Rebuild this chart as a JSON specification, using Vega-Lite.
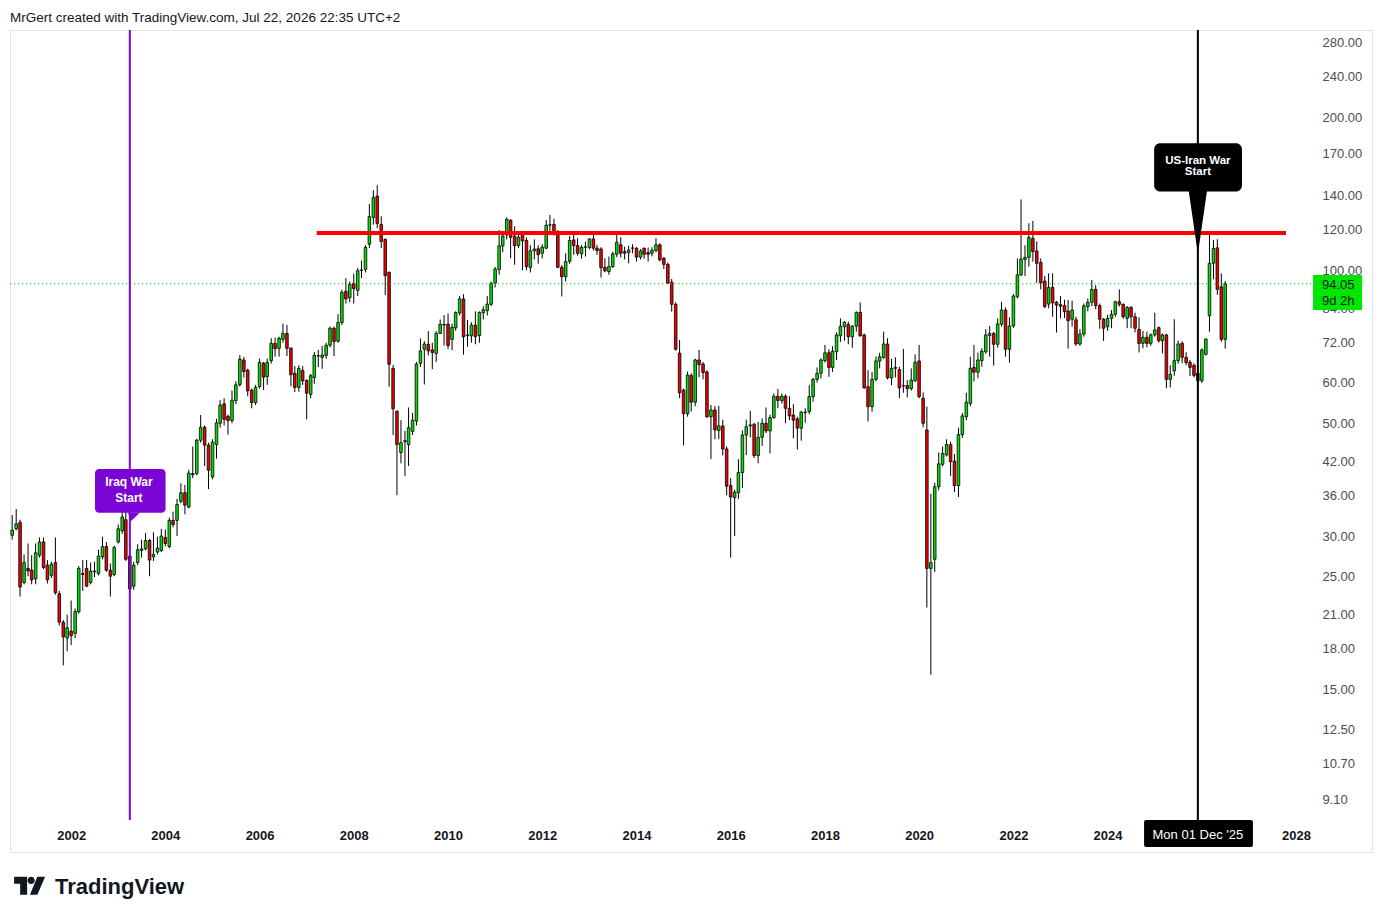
{
"$schema": "https://vega.github.io/schema/vega-lite/v6.json",
"width": 1362, "height": 822,
"autosize": {"type": "none"},
"padding": {"left": 10, "top": 30, "right": 11, "bottom": 68},
"background": "#ffffff",
"config": {"view": {"stroke": "#e0e3eb", "strokeWidth": 1}, "font": "Liberation Sans"},
"title": {"text": "MrGert created with TradingView.com, Jul 22, 2026 22:35 UTC+2", "anchor": "start", "frame": "group", "fontSize": 13.5, "fontWeight": "normal", "color": "#131722", "font": "Liberation Sans", "offset": 6, "baseline": "bottom", "dy": 15},
"resolve": {"axis": {"x": "independent", "y": "independent"}},
"datasets": {
"candles": [
{"d":"2000-10-01","o":30.1,"h":33.0,"l":29.5,"c":30.8},
{"d":"2000-11-01","o":31.0,"h":33.9,"l":30.8,"c":31.7},
{"d":"2000-12-01","o":31.9,"h":32.3,"l":22.8,"c":23.8},
{"d":"2001-01-01","o":24.3,"h":27.6,"l":24.1,"c":26.6},
{"d":"2001-02-01","o":25.9,"h":29.0,"l":25.0,"c":25.6},
{"d":"2001-03-01","o":25.7,"h":27.5,"l":24.1,"c":24.6},
{"d":"2001-04-01","o":24.7,"h":29.0,"l":24.1,"c":27.8},
{"d":"2001-05-01","o":27.5,"h":29.8,"l":27.2,"c":29.2},
{"d":"2001-06-01","o":29.2,"h":29.8,"l":25.8,"c":26.0},
{"d":"2001-07-01","o":26.3,"h":26.9,"l":24.2,"c":24.6},
{"d":"2001-08-01","o":25.1,"h":26.7,"l":24.8,"c":26.4},
{"d":"2001-09-01","o":26.6,"h":29.8,"l":23.0,"c":23.2},
{"d":"2001-10-01","o":23.1,"h":23.4,"l":20.0,"c":20.3},
{"d":"2001-11-01","o":20.3,"h":20.5,"l":16.7,"c":19.0},
{"d":"2001-12-01","o":18.9,"h":21.0,"l":17.8,"c":19.8},
{"d":"2002-01-01","o":19.5,"h":22.4,"l":18.3,"c":19.1},
{"d":"2002-02-01","o":19.3,"h":21.6,"l":18.9,"c":21.3},
{"d":"2002-03-01","o":21.3,"h":26.2,"l":21.1,"c":25.9},
{"d":"2002-04-01","o":25.3,"h":26.9,"l":23.4,"c":25.2},
{"d":"2002-05-01","o":25.9,"h":26.9,"l":23.8,"c":23.9},
{"d":"2002-06-01","o":24.3,"h":26.6,"l":24.1,"c":25.6},
{"d":"2002-07-01","o":25.6,"h":26.7,"l":24.9,"c":25.5},
{"d":"2002-08-01","o":25.3,"h":28.2,"l":25.1,"c":27.4},
{"d":"2002-09-01","o":27.3,"h":29.9,"l":27.0,"c":28.6},
{"d":"2002-10-01","o":28.6,"h":29.2,"l":25.5,"c":25.7},
{"d":"2002-11-01","o":25.7,"h":26.5,"l":22.8,"c":25.0},
{"d":"2002-12-01","o":25.2,"h":28.7,"l":25.0,"c":28.5},
{"d":"2003-01-01","o":29.2,"h":31.6,"l":29.0,"c":31.0},
{"d":"2003-02-01","o":30.7,"h":33.9,"l":30.3,"c":32.7},
{"d":"2003-03-01","o":32.3,"h":34.6,"l":26.8,"c":27.0},
{"d":"2003-04-01","o":27.4,"h":27.6,"l":23.2,"c":23.6},
{"d":"2003-05-01","o":23.9,"h":26.7,"l":23.5,"c":26.3},
{"d":"2003-06-01","o":26.6,"h":28.9,"l":26.3,"c":28.2},
{"d":"2003-07-01","o":28.1,"h":29.5,"l":27.2,"c":28.3},
{"d":"2003-08-01","o":28.3,"h":30.4,"l":28.1,"c":29.4},
{"d":"2003-09-01","o":29.4,"h":29.6,"l":25.0,"c":26.9},
{"d":"2003-10-01","o":27.3,"h":30.5,"l":26.8,"c":27.6},
{"d":"2003-11-01","o":27.9,"h":29.9,"l":27.6,"c":28.4},
{"d":"2003-12-01","o":28.1,"h":31.0,"l":27.9,"c":30.0},
{"d":"2004-01-01","o":29.8,"h":30.9,"l":28.6,"c":29.0},
{"d":"2004-02-01","o":28.6,"h":32.6,"l":28.4,"c":32.2},
{"d":"2004-03-01","o":32.2,"h":33.5,"l":31.2,"c":31.6},
{"d":"2004-04-01","o":32.2,"h":35.5,"l":30.0,"c":34.6},
{"d":"2004-05-01","o":35.1,"h":38.1,"l":34.8,"c":36.5},
{"d":"2004-06-01","o":36.5,"h":37.8,"l":33.1,"c":34.5},
{"d":"2004-07-01","o":34.2,"h":40.5,"l":34.0,"c":39.9},
{"d":"2004-08-01","o":39.8,"h":45.0,"l":39.0,"c":39.6},
{"d":"2004-09-01","o":39.8,"h":46.6,"l":39.5,"c":46.3},
{"d":"2004-10-01","o":46.3,"h":51.9,"l":45.8,"c":49.1},
{"d":"2004-11-01","o":49.1,"h":49.5,"l":41.2,"c":45.3},
{"d":"2004-12-01","o":45.3,"h":45.8,"l":37.1,"c":40.4},
{"d":"2005-01-01","o":39.2,"h":46.5,"l":38.8,"c":45.9},
{"d":"2005-02-01","o":45.4,"h":51.0,"l":42.6,"c":50.1},
{"d":"2005-03-01","o":50.0,"h":55.5,"l":49.0,"c":54.3},
{"d":"2005-04-01","o":54.6,"h":56.0,"l":49.5,"c":50.9},
{"d":"2005-05-01","o":51.6,"h":52.0,"l":47.5,"c":50.6},
{"d":"2005-06-01","o":50.6,"h":58.0,"l":50.0,"c":55.5},
{"d":"2005-07-01","o":55.4,"h":60.5,"l":54.5,"c":59.5},
{"d":"2005-08-01","o":59.6,"h":68.1,"l":59.0,"c":66.8},
{"d":"2005-09-01","o":66.6,"h":67.5,"l":61.5,"c":63.2},
{"d":"2005-10-01","o":63.6,"h":64.0,"l":56.5,"c":57.9},
{"d":"2005-11-01","o":58.1,"h":58.5,"l":53.5,"c":54.9},
{"d":"2005-12-01","o":54.9,"h":59.5,"l":54.3,"c":58.8},
{"d":"2006-01-01","o":59.0,"h":67.0,"l":58.5,"c":65.9},
{"d":"2006-02-01","o":65.6,"h":66.0,"l":58.1,"c":61.6},
{"d":"2006-03-01","o":61.8,"h":67.0,"l":59.5,"c":65.9},
{"d":"2006-04-01","o":66.4,"h":73.5,"l":65.5,"c":71.8},
{"d":"2006-05-01","o":71.8,"h":73.7,"l":67.6,"c":70.1},
{"d":"2006-06-01","o":70.2,"h":74.0,"l":67.6,"c":73.5},
{"d":"2006-07-01","o":73.1,"h":78.5,"l":72.0,"c":75.1},
{"d":"2006-08-01","o":75.1,"h":78.0,"l":67.8,"c":70.2},
{"d":"2006-09-01","o":70.3,"h":70.5,"l":59.1,"c":62.3},
{"d":"2006-10-01","o":62.7,"h":64.8,"l":57.6,"c":58.8},
{"d":"2006-11-01","o":58.8,"h":65.0,"l":57.7,"c":64.1},
{"d":"2006-12-01","o":63.5,"h":64.8,"l":59.5,"c":60.6},
{"d":"2007-01-01","o":60.7,"h":61.0,"l":50.9,"c":57.3},
{"d":"2007-02-01","o":57.0,"h":62.5,"l":56.0,"c":62.0},
{"d":"2007-03-01","o":61.5,"h":69.0,"l":59.8,"c":68.0},
{"d":"2007-04-01","o":67.8,"h":69.7,"l":64.5,"c":67.9},
{"d":"2007-05-01","o":67.4,"h":71.0,"l":64.0,"c":68.1},
{"d":"2007-06-01","o":68.0,"h":72.0,"l":67.0,"c":71.2},
{"d":"2007-07-01","o":71.2,"h":77.5,"l":70.5,"c":76.9},
{"d":"2007-08-01","o":76.9,"h":77.5,"l":67.8,"c":72.4},
{"d":"2007-09-01","o":72.5,"h":82.0,"l":72.0,"c":78.9},
{"d":"2007-10-01","o":78.9,"h":91.5,"l":78.0,"c":90.5},
{"d":"2007-11-01","o":90.9,"h":96.5,"l":86.0,"c":87.8},
{"d":"2007-12-01","o":88.3,"h":95.0,"l":86.5,"c":93.8},
{"d":"2008-01-01","o":94.2,"h":98.5,"l":86.0,"c":92.0},
{"d":"2008-02-01","o":91.3,"h":101.0,"l":89.0,"c":99.8},
{"d":"2008-03-01","o":100.1,"h":104.5,"l":96.5,"c":100.0},
{"d":"2008-04-01","o":100.4,"h":112.0,"l":99.0,"c":110.9},
{"d":"2008-05-01","o":112.5,"h":134.9,"l":110.5,"c":127.5},
{"d":"2008-06-01","o":127.0,"h":143.7,"l":123.0,"c":139.0},
{"d":"2008-07-01","o":139.9,"h":147.0,"l":121.0,"c":123.6},
{"d":"2008-08-01","o":123.0,"h":127.7,"l":110.5,"c":113.9},
{"d":"2008-09-01","o":115.0,"h":115.5,"l":89.4,"c":97.6},
{"d":"2008-10-01","o":99.0,"h":99.5,"l":59.0,"c":65.3},
{"d":"2008-11-01","o":64.1,"h":65.1,"l":47.4,"c":53.4},
{"d":"2008-12-01","o":52.8,"h":53.0,"l":36.1,"c":45.4},
{"d":"2009-01-01","o":43.8,"h":50.7,"l":41.7,"c":45.8},
{"d":"2009-02-01","o":46.0,"h":48.3,"l":39.4,"c":46.2},
{"d":"2009-03-01","o":45.4,"h":53.7,"l":41.2,"c":49.0},
{"d":"2009-04-01","o":48.2,"h":52.4,"l":47.4,"c":50.7},
{"d":"2009-05-01","o":50.5,"h":66.0,"l":49.5,"c":65.4},
{"d":"2009-06-01","o":65.6,"h":73.4,"l":64.5,"c":69.4},
{"d":"2009-07-01","o":69.9,"h":72.5,"l":59.6,"c":71.6},
{"d":"2009-08-01","o":71.5,"h":75.9,"l":68.0,"c":69.4},
{"d":"2009-09-01","o":69.7,"h":72.0,"l":63.9,"c":68.9},
{"d":"2009-10-01","o":68.6,"h":75.9,"l":66.0,"c":75.1},
{"d":"2009-11-01","o":75.1,"h":80.0,"l":75.0,"c":78.3},
{"d":"2009-12-01","o":78.0,"h":81.6,"l":71.1,"c":78.2},
{"d":"2010-01-01","o":78.3,"h":82.2,"l":70.0,"c":71.1},
{"d":"2010-02-01","o":73.1,"h":78.5,"l":69.6,"c":77.2},
{"d":"2010-03-01","o":77.0,"h":83.0,"l":76.0,"c":82.6},
{"d":"2010-04-01","o":82.4,"h":89.0,"l":81.5,"c":87.8},
{"d":"2010-05-01","o":87.8,"h":89.7,"l":68.2,"c":74.0},
{"d":"2010-06-01","o":74.3,"h":79.8,"l":70.7,"c":74.6},
{"d":"2010-07-01","o":74.3,"h":79.0,"l":72.0,"c":78.0},
{"d":"2010-08-01","o":78.0,"h":83.0,"l":71.5,"c":74.0},
{"d":"2010-09-01","o":74.4,"h":83.0,"l":72.0,"c":82.6},
{"d":"2010-10-01","o":82.5,"h":85.0,"l":80.0,"c":83.6},
{"d":"2010-11-01","o":83.3,"h":89.0,"l":81.5,"c":85.8},
{"d":"2010-12-01","o":85.7,"h":95.0,"l":85.0,"c":94.3},
{"d":"2011-01-01","o":94.3,"h":101.5,"l":92.5,"c":100.5},
{"d":"2011-02-01","o":100.4,"h":120.0,"l":98.0,"c":111.7},
{"d":"2011-03-01","o":111.7,"h":118.0,"l":108.5,"c":116.8},
{"d":"2011-04-01","o":117.3,"h":127.0,"l":115.0,"c":126.0},
{"d":"2011-05-01","o":125.4,"h":126.0,"l":105.5,"c":116.1},
{"d":"2011-06-01","o":116.8,"h":122.0,"l":102.5,"c":111.7},
{"d":"2011-07-01","o":111.9,"h":119.0,"l":110.5,"c":116.1},
{"d":"2011-08-01","o":118.2,"h":119.0,"l":100.0,"c":114.2},
{"d":"2011-09-01","o":114.5,"h":116.0,"l":100.0,"c":101.6},
{"d":"2011-10-01","o":101.3,"h":112.0,"l":99.0,"c":109.2},
{"d":"2011-11-01","o":109.2,"h":115.0,"l":105.0,"c":110.1},
{"d":"2011-12-01","o":110.2,"h":112.0,"l":103.0,"c":107.4},
{"d":"2012-01-01","o":108.0,"h":112.5,"l":105.5,"c":111.0},
{"d":"2012-02-01","o":110.5,"h":125.6,"l":110.0,"c":122.6},
{"d":"2012-03-01","o":122.7,"h":128.5,"l":119.5,"c":122.8},
{"d":"2012-04-01","o":123.1,"h":126.3,"l":117.0,"c":119.1},
{"d":"2012-05-01","o":119.1,"h":120.0,"l":101.0,"c":101.3},
{"d":"2012-06-01","o":101.3,"h":102.4,"l":88.8,"c":97.1},
{"d":"2012-07-01","o":97.1,"h":108.0,"l":95.0,"c":104.0},
{"d":"2012-08-01","o":104.1,"h":116.8,"l":103.0,"c":114.4},
{"d":"2012-09-01","o":114.7,"h":117.9,"l":107.2,"c":111.8},
{"d":"2012-10-01","o":111.8,"h":115.6,"l":107.0,"c":108.0},
{"d":"2012-11-01","o":107.7,"h":112.0,"l":105.3,"c":111.0},
{"d":"2012-12-01","o":111.0,"h":113.9,"l":106.4,"c":111.2},
{"d":"2013-01-01","o":110.8,"h":115.6,"l":110.0,"c":115.2},
{"d":"2013-02-01","o":115.2,"h":118.8,"l":109.3,"c":110.5},
{"d":"2013-03-01","o":110.5,"h":112.2,"l":107.2,"c":109.3},
{"d":"2013-04-01","o":110.1,"h":111.0,"l":96.7,"c":101.2},
{"d":"2013-05-01","o":101.3,"h":105.6,"l":99.1,"c":99.7},
{"d":"2013-06-01","o":99.4,"h":106.4,"l":98.0,"c":101.7},
{"d":"2013-07-01","o":101.7,"h":108.8,"l":101.0,"c":107.7},
{"d":"2013-08-01","o":107.5,"h":117.3,"l":106.1,"c":113.5},
{"d":"2013-09-01","o":112.2,"h":116.1,"l":106.0,"c":108.0},
{"d":"2013-10-01","o":108.8,"h":111.3,"l":105.0,"c":108.0},
{"d":"2013-11-01","o":108.3,"h":111.7,"l":103.2,"c":109.6},
{"d":"2013-12-01","o":110.6,"h":112.5,"l":108.0,"c":110.5},
{"d":"2014-01-01","o":110.5,"h":111.0,"l":104.0,"c":106.1},
{"d":"2014-02-01","o":106.1,"h":110.0,"l":105.0,"c":109.1},
{"d":"2014-03-01","o":110.5,"h":110.8,"l":105.3,"c":107.5},
{"d":"2014-04-01","o":108.3,"h":110.8,"l":104.0,"c":107.5},
{"d":"2014-05-01","o":108.0,"h":111.0,"l":106.5,"c":109.5},
{"d":"2014-06-01","o":109.3,"h":115.6,"l":108.5,"c":112.2},
{"d":"2014-07-01","o":112.2,"h":113.0,"l":104.0,"c":104.8},
{"d":"2014-08-01","o":105.6,"h":106.0,"l":100.5,"c":102.7},
{"d":"2014-09-01","o":102.7,"h":103.5,"l":94.0,"c":94.3},
{"d":"2014-10-01","o":94.7,"h":96.1,"l":82.9,"c":85.7},
{"d":"2014-11-01","o":85.7,"h":86.5,"l":69.5,"c":69.9},
{"d":"2014-12-01","o":68.7,"h":72.9,"l":56.0,"c":57.4},
{"d":"2015-01-01","o":58.1,"h":58.5,"l":45.2,"c":52.2},
{"d":"2015-02-01","o":52.2,"h":63.2,"l":51.5,"c":62.2},
{"d":"2015-03-01","o":62.1,"h":62.7,"l":52.7,"c":55.0},
{"d":"2015-04-01","o":55.0,"h":67.0,"l":54.0,"c":66.6},
{"d":"2015-05-01","o":66.6,"h":69.7,"l":61.6,"c":65.2},
{"d":"2015-06-01","o":65.4,"h":66.0,"l":61.0,"c":62.9},
{"d":"2015-07-01","o":63.1,"h":63.5,"l":51.2,"c":51.5},
{"d":"2015-08-01","o":51.5,"h":54.3,"l":42.5,"c":53.1},
{"d":"2015-09-01","o":53.1,"h":54.0,"l":46.5,"c":48.5},
{"d":"2015-10-01","o":48.4,"h":54.1,"l":46.5,"c":49.4},
{"d":"2015-11-01","o":49.4,"h":50.8,"l":43.2,"c":44.5},
{"d":"2015-12-01","o":44.5,"h":45.0,"l":36.1,"c":37.6},
{"d":"2016-01-01","o":37.7,"h":39.0,"l":27.2,"c":35.8},
{"d":"2016-02-01","o":35.7,"h":37.0,"l":30.0,"c":36.6},
{"d":"2016-03-01","o":36.5,"h":42.5,"l":35.5,"c":40.0},
{"d":"2016-04-01","o":40.0,"h":48.4,"l":37.3,"c":47.4},
{"d":"2016-05-01","o":47.4,"h":50.8,"l":43.3,"c":49.2},
{"d":"2016-06-01","o":49.4,"h":52.9,"l":46.9,"c":49.6},
{"d":"2016-07-01","o":49.8,"h":50.0,"l":42.7,"c":43.2},
{"d":"2016-08-01","o":43.2,"h":50.3,"l":41.7,"c":46.9},
{"d":"2016-09-01","o":46.9,"h":51.1,"l":45.1,"c":50.0},
{"d":"2016-10-01","o":50.0,"h":53.7,"l":47.8,"c":48.3},
{"d":"2016-11-01","o":48.3,"h":52.0,"l":43.6,"c":51.3},
{"d":"2016-12-01","o":51.3,"h":57.2,"l":51.0,"c":56.5},
{"d":"2017-01-01","o":56.5,"h":58.4,"l":53.5,"c":55.4},
{"d":"2017-02-01","o":55.4,"h":57.2,"l":54.7,"c":56.5},
{"d":"2017-03-01","o":56.5,"h":57.0,"l":50.0,"c":53.5},
{"d":"2017-04-01","o":53.5,"h":56.5,"l":50.7,"c":51.7},
{"d":"2017-05-01","o":51.9,"h":54.5,"l":46.7,"c":50.7},
{"d":"2017-06-01","o":51.0,"h":51.5,"l":44.4,"c":48.9},
{"d":"2017-07-01","o":48.9,"h":52.9,"l":46.2,"c":52.6},
{"d":"2017-08-01","o":52.6,"h":53.5,"l":50.1,"c":52.5},
{"d":"2017-09-01","o":52.7,"h":59.4,"l":52.1,"c":56.4},
{"d":"2017-10-01","o":56.4,"h":61.4,"l":55.1,"c":61.0},
{"d":"2017-11-01","o":61.0,"h":64.4,"l":60.1,"c":62.7},
{"d":"2017-12-01","o":62.7,"h":67.1,"l":61.2,"c":66.6},
{"d":"2018-01-01","o":66.4,"h":71.3,"l":65.8,"c":68.8},
{"d":"2018-02-01","o":68.8,"h":69.9,"l":61.7,"c":64.4},
{"d":"2018-03-01","o":64.4,"h":70.9,"l":63.1,"c":69.3},
{"d":"2018-04-01","o":69.1,"h":75.5,"l":66.6,"c":74.6},
{"d":"2018-05-01","o":74.3,"h":80.4,"l":72.3,"c":77.6},
{"d":"2018-06-01","o":77.4,"h":79.4,"l":72.7,"c":79.0},
{"d":"2018-07-01","o":78.2,"h":79.2,"l":71.5,"c":74.0},
{"d":"2018-08-01","o":74.0,"h":78.0,"l":70.4,"c":77.6},
{"d":"2018-09-01","o":77.6,"h":83.0,"l":75.7,"c":82.6},
{"d":"2018-10-01","o":82.6,"h":86.4,"l":74.0,"c":74.3},
{"d":"2018-11-01","o":74.6,"h":75.0,"l":58.4,"c":58.7},
{"d":"2018-12-01","o":59.0,"h":63.6,"l":50.4,"c":53.9},
{"d":"2019-01-01","o":53.9,"h":63.1,"l":52.7,"c":61.0},
{"d":"2019-02-01","o":61.0,"h":67.6,"l":60.5,"c":66.3},
{"d":"2019-03-01","o":66.3,"h":68.8,"l":64.1,"c":67.6},
{"d":"2019-04-01","o":67.3,"h":75.7,"l":67.0,"c":71.6},
{"d":"2019-05-01","o":71.6,"h":73.5,"l":61.0,"c":61.4},
{"d":"2019-06-01","o":61.4,"h":66.9,"l":59.4,"c":64.1},
{"d":"2019-07-01","o":64.1,"h":67.4,"l":61.5,"c":64.4},
{"d":"2019-08-01","o":63.8,"h":64.6,"l":56.0,"c":58.7},
{"d":"2019-09-01","o":59.3,"h":70.0,"l":57.4,"c":59.2},
{"d":"2019-10-01","o":59.3,"h":60.8,"l":56.2,"c":58.5},
{"d":"2019-11-01","o":58.5,"h":64.1,"l":58.0,"c":60.8},
{"d":"2019-12-01","o":60.6,"h":68.3,"l":60.3,"c":65.9},
{"d":"2020-01-01","o":66.3,"h":71.3,"l":56.0,"c":56.4},
{"d":"2020-02-01","o":56.0,"h":57.5,"l":49.1,"c":50.0},
{"d":"2020-03-01","o":48.5,"h":53.9,"l":21.7,"c":25.9},
{"d":"2020-04-01","o":25.9,"h":36.3,"l":16.0,"c":26.6},
{"d":"2020-05-01","o":27.0,"h":38.2,"l":25.5,"c":37.5},
{"d":"2020-06-01","o":37.5,"h":43.8,"l":36.9,"c":41.6},
{"d":"2020-07-01","o":41.5,"h":45.0,"l":41.1,"c":43.6},
{"d":"2020-08-01","o":43.3,"h":46.5,"l":43.0,"c":45.4},
{"d":"2020-09-01","o":45.4,"h":46.0,"l":39.4,"c":42.0},
{"d":"2020-10-01","o":42.1,"h":43.5,"l":36.6,"c":37.7},
{"d":"2020-11-01","o":37.7,"h":49.0,"l":35.8,"c":47.5},
{"d":"2020-12-01","o":47.5,"h":52.4,"l":46.8,"c":51.7},
{"d":"2021-01-01","o":51.5,"h":57.4,"l":50.7,"c":55.0},
{"d":"2021-02-01","o":54.7,"h":67.6,"l":54.0,"c":64.1},
{"d":"2021-03-01","o":64.4,"h":71.3,"l":60.4,"c":63.0},
{"d":"2021-04-01","o":63.0,"h":68.8,"l":61.3,"c":66.6},
{"d":"2021-05-01","o":66.4,"h":70.2,"l":64.6,"c":69.3},
{"d":"2021-06-01","o":69.1,"h":76.6,"l":68.5,"c":74.6},
{"d":"2021-07-01","o":74.4,"h":77.7,"l":67.6,"c":75.1},
{"d":"2021-08-01","o":75.1,"h":75.6,"l":64.9,"c":71.5},
{"d":"2021-09-01","o":71.5,"h":80.4,"l":70.4,"c":78.4},
{"d":"2021-10-01","o":78.3,"h":86.7,"l":77.5,"c":83.5},
{"d":"2021-11-01","o":83.5,"h":84.5,"l":67.6,"c":69.9},
{"d":"2021-12-01","o":69.9,"h":80.8,"l":65.8,"c":77.7},
{"d":"2022-01-01","o":77.7,"h":89.8,"l":77.0,"c":89.0},
{"d":"2022-02-01","o":88.7,"h":105.5,"l":88.0,"c":97.9},
{"d":"2022-03-01","o":97.9,"h":137.8,"l":97.4,"c":105.2},
{"d":"2022-04-01","o":105.0,"h":112.0,"l":97.4,"c":106.0},
{"d":"2022-05-01","o":106.0,"h":123.7,"l":101.6,"c":116.0},
{"d":"2022-06-01","o":115.5,"h":125.0,"l":104.0,"c":108.8},
{"d":"2022-07-01","o":109.1,"h":114.0,"l":94.5,"c":103.2},
{"d":"2022-08-01","o":103.6,"h":105.5,"l":91.7,"c":94.5},
{"d":"2022-09-01","o":95.2,"h":97.5,"l":84.2,"c":84.8},
{"d":"2022-10-01","o":85.8,"h":98.6,"l":84.2,"c":92.5},
{"d":"2022-11-01","o":92.5,"h":98.6,"l":81.0,"c":86.3},
{"d":"2022-12-01","o":86.5,"h":87.0,"l":75.4,"c":85.4},
{"d":"2023-01-01","o":85.6,"h":89.0,"l":80.4,"c":84.9},
{"d":"2023-02-01","o":85.2,"h":87.5,"l":80.5,"c":82.9},
{"d":"2023-03-01","o":83.1,"h":87.4,"l":70.1,"c":79.6},
{"d":"2023-04-01","o":80.1,"h":87.1,"l":77.5,"c":83.5},
{"d":"2023-05-01","o":79.9,"h":81.0,"l":71.0,"c":71.6},
{"d":"2023-06-01","o":71.6,"h":76.5,"l":71.0,"c":74.9},
{"d":"2023-07-01","o":74.9,"h":86.0,"l":74.0,"c":85.1},
{"d":"2023-08-01","o":84.8,"h":88.0,"l":83.0,"c":86.5},
{"d":"2023-09-01","o":86.5,"h":95.7,"l":85.0,"c":91.7},
{"d":"2023-10-01","o":91.7,"h":93.5,"l":83.8,"c":85.2},
{"d":"2023-11-01","o":85.2,"h":86.0,"l":76.7,"c":80.1},
{"d":"2023-12-01","o":80.1,"h":80.5,"l":72.6,"c":76.9},
{"d":"2024-01-01","o":77.4,"h":81.7,"l":76.0,"c":80.4},
{"d":"2024-02-01","o":80.4,"h":83.5,"l":76.9,"c":81.9},
{"d":"2024-03-01","o":81.9,"h":87.1,"l":81.0,"c":86.7},
{"d":"2024-04-01","o":86.7,"h":91.7,"l":84.8,"c":85.7},
{"d":"2024-05-01","o":85.7,"h":86.0,"l":80.3,"c":81.0},
{"d":"2024-06-01","o":80.4,"h":85.0,"l":76.9,"c":84.5},
{"d":"2024-07-01","o":84.5,"h":85.0,"l":76.9,"c":81.0},
{"d":"2024-08-01","o":81.0,"h":82.5,"l":75.5,"c":76.9},
{"d":"2024-09-01","o":76.5,"h":80.8,"l":68.9,"c":71.8},
{"d":"2024-10-01","o":71.8,"h":76.0,"l":70.2,"c":73.8},
{"d":"2024-11-01","o":73.8,"h":75.7,"l":70.5,"c":71.8},
{"d":"2024-12-01","o":71.8,"h":75.1,"l":71.0,"c":74.6},
{"d":"2025-01-01","o":74.6,"h":82.5,"l":74.0,"c":76.3},
{"d":"2025-02-01","o":77.1,"h":77.5,"l":72.0,"c":72.7},
{"d":"2025-03-01","o":72.7,"h":75.1,"l":68.6,"c":74.6},
{"d":"2025-04-01","o":74.6,"h":75.0,"l":58.6,"c":61.0},
{"d":"2025-05-01","o":61.0,"h":65.0,"l":58.8,"c":62.4},
{"d":"2025-06-01","o":63.4,"h":80.1,"l":62.0,"c":66.4},
{"d":"2025-07-01","o":66.4,"h":72.7,"l":65.5,"c":71.6},
{"d":"2025-08-01","o":71.8,"h":72.5,"l":65.6,"c":67.4},
{"d":"2025-09-01","o":67.4,"h":69.0,"l":65.0,"c":65.8},
{"d":"2025-10-01","o":65.9,"h":66.6,"l":61.9,"c":64.4},
{"d":"2025-11-01","o":65.0,"h":65.6,"l":61.5,"c":62.1},
{"d":"2025-12-01","o":62.7,"h":63.5,"l":59.5,"c":60.6},
{"d":"2026-01-01","o":60.6,"h":70.2,"l":60.0,"c":69.7},
{"d":"2026-02-01","o":68.3,"h":73.5,"l":68.0,"c":73.2},
{"d":"2026-03-01","o":81.4,"h":119.4,"l":75.7,"c":103.2},
{"d":"2026-04-01","o":103.2,"h":114.7,"l":96.0,"c":110.4},
{"d":"2026-05-01","o":110.7,"h":115.1,"l":89.5,"c":91.7},
{"d":"2026-06-01","o":92.8,"h":98.6,"l":72.3,"c":73.1},
{"d":"2026-07-01","o":73.1,"h":95.2,"l":70.1,"c":94.05}
]
},
"layer": [
{"data": {"name": "candles"}, "mark": {"type": "rule", "color": "#000000", "strokeWidth": 1},
 "encoding": {
  "x": {"field": "d", "type": "temporal", "scale": {"type": "utc", "domain": [{"year": 2000, "month": 9, "date": 14, "utc": true}, {"year": 2029, "month": 8, "date": 12, "utc": true}], "nice": false, "padding": 0},
   "axis": {"orient": "bottom", "offset": -32, "zindex": 0, "grid": false, "domain": false, "ticks": false, "title": null, "values": [{"year": 2002, "utc": true}, {"year": 2004, "utc": true}, {"year": 2006, "utc": true}, {"year": 2008, "utc": true}, {"year": 2010, "utc": true}, {"year": 2012, "utc": true}, {"year": 2014, "utc": true}, {"year": 2016, "utc": true}, {"year": 2018, "utc": true}, {"year": 2020, "utc": true}, {"year": 2022, "utc": true}, {"year": 2024, "utc": true}, {"year": 2028, "utc": true}], "format": "%Y", "formatType": "utc", "labelFontSize": 13, "labelFontWeight": "bold", "labelColor": "#131722", "labelPadding": 15, "labelBaseline": "middle", "labelFlush": false, "labelOverlap": false}},
  "y": {"field": "l", "type": "quantitative", "scale": {"type": "log", "domain": [7.169, 296.9], "nice": false, "padding": 0},
   "axis": {"orient": "right", "offset": -60, "zindex": 0, "grid": false, "domain": false, "ticks": false, "title": null, "values": [9.1, 10.7, 12.5, 15, 18, 21, 25, 30, 36, 42, 50, 60, 72, 84, 100, 120, 140, 170, 200, 240, 280], "format": ".2f", "labelFontSize": 13, "labelColor": "#4a4d57", "labelPadding": 10, "labelAlign": "left", "labelBaseline": "middle", "labelOverlap": false}},
  "y2": {"field": "h"}}},
{"data": {"name": "candles"}, "mark": {"type": "bar", "width": 2.6, "stroke": "#000000", "strokeWidth": 0.8},
 "encoding": {
  "x": {"field": "d", "type": "temporal", "axis": null},
  "y": {"field": "o", "type": "quantitative", "axis": null},
  "y2": {"field": "c"},
  "fill": {"condition": {"test": "datum.c >= datum.o", "value": "#00e000"}, "value": "#f00000"}}},
{"data": {"values": [{"d": "2007-03-20", "d2": "2027-10-15", "v": 118.4}]}, "mark": {"type": "rule", "color": "#ff0000", "strokeWidth": 4},
 "encoding": {"x": {"field": "d", "type": "temporal", "axis": null}, "x2": {"field": "d2"}, "y": {"field": "v", "type": "quantitative", "axis": null}}},
{"data": {"values": [{"d": "2000-09-14", "d2": "2028-05-05", "v": 94.05}]}, "mark": {"type": "rule", "color": "#00d000", "strokeWidth": 1.2, "strokeDash": [1.3, 2.7]},
 "encoding": {"x": {"field": "d", "type": "temporal", "axis": null}, "x2": {"field": "d2"}, "y": {"field": "v", "type": "quantitative", "axis": null}}},
{"data": {"values": [{"d": "2003-04-01", "v": 296.9, "v2": 8.29}]}, "mark": {"type": "rule", "color": "#7a05d4", "strokeWidth": 2},
 "encoding": {"x": {"field": "d", "type": "temporal", "axis": null}, "y": {"field": "v", "type": "quantitative", "axis": null}, "y2": {"field": "v2"}}},
{"data": {"values": [{"d": "2025-12-01", "v": 296.9, "v2": 8.29}]}, "mark": {"type": "rule", "color": "#000000", "strokeWidth": 2},
 "encoding": {"x": {"field": "d", "type": "temporal", "axis": null}, "y": {"field": "v", "type": "quantitative", "axis": null}, "y2": {"field": "v2"}}},
{"data": {"values": [{"d": "2002-07-05", "d2": "2004-01-03", "v": 40.65, "v2": 33.34}]}, "mark": {"type": "rect", "color": "#7a05d4", "cornerRadius": 4},
 "encoding": {"x": {"field": "d", "type": "temporal", "axis": null}, "x2": {"field": "d2"}, "y": {"field": "v", "type": "quantitative", "axis": null}, "y2": {"field": "v2"}}},
{"data": {"values": [{"d": "2003-05-03", "v": 32.7}]}, "mark": {"type": "point", "shape": "M-1,-0.75 L1,-0.75 L-0.5,0.7 Z", "size": 144, "filled": true, "color": "#7a05d4", "opacity": 1, "strokeWidth": 0},
 "encoding": {"x": {"field": "d", "type": "temporal", "axis": null}, "y": {"field": "v", "type": "quantitative", "axis": null}}},
{"data": {"values": [{"d": "2003-03-25", "v": 38.3, "t": "Iraq War"}, {"d": "2003-03-25", "v": 35.7, "t": "Start"}]}, "mark": {"type": "text", "color": "#ffffff", "fontSize": 12, "fontWeight": "bold", "align": "center", "baseline": "middle"},
 "encoding": {"x": {"field": "d", "type": "temporal", "axis": null}, "y": {"field": "v", "type": "quantitative", "axis": null}, "text": {"field": "t"}}},
{"data": {"values": [{"d": "2024-12-27", "d2": "2026-11-08", "v": 177.7, "v2": 142.8}]}, "mark": {"type": "rect", "color": "#000000", "cornerRadius": 6},
 "encoding": {"x": {"field": "d", "type": "temporal", "axis": null}, "x2": {"field": "d2"}, "y": {"field": "v", "type": "quantitative", "axis": null}, "y2": {"field": "v2"}}},
{"data": {"values": [{"d": "2025-12-01", "v": 124.4}]}, "mark": {"type": "point", "shape": "M-0.29,-1 L0.29,-1 L0,1 Z", "size": 4096, "filled": true, "color": "#000000", "opacity": 1, "strokeWidth": 0},
 "encoding": {"x": {"field": "d", "type": "temporal", "axis": null}, "y": {"field": "v", "type": "quantitative", "axis": null}}},
{"data": {"values": [{"d": "2025-12-01", "v": 164.0, "t": "US-Iran War"}, {"d": "2025-12-01", "v": 156.1, "t": "Start"}]}, "mark": {"type": "text", "color": "#ffffff", "fontSize": 11.5, "fontWeight": "bold", "align": "center", "baseline": "middle"},
 "encoding": {"x": {"field": "d", "type": "temporal", "axis": null}, "y": {"field": "v", "type": "quantitative", "axis": null}, "text": {"field": "t"}}},
{"data": {"values": [{"d": "2028-05-12", "d2": "2029-05-27", "v": 97.9, "v2": 83.5}]}, "mark": {"type": "rect", "color": "#00e600"},
 "encoding": {"x": {"field": "d", "type": "temporal", "axis": null}, "x2": {"field": "d2"}, "y": {"field": "v", "type": "quantitative", "axis": null}, "y2": {"field": "v2"}}},
{"data": {"values": [{"d": "2028-07-20", "v": 93.6, "t": "94.05"}, {"d": "2028-07-20", "v": 87.0, "t": "9d 2h"}]}, "mark": {"type": "text", "color": "#131722", "fontSize": 13, "align": "left", "baseline": "middle"},
 "encoding": {"x": {"field": "d", "type": "temporal", "axis": null}, "y": {"field": "v", "type": "quantitative", "axis": null}, "text": {"field": "t"}}},
{"data": {"values": [{"d": "2024-10-10", "d2": "2027-02-01", "v": 8.29, "v2": 7.333}]}, "mark": {"type": "rect", "color": "#000000", "cornerRadius": 2},
 "encoding": {"x": {"field": "d", "type": "temporal", "axis": null}, "x2": {"field": "d2"}, "y": {"field": "v", "type": "quantitative", "axis": null}, "y2": {"field": "v2"}}},
{"data": {"values": [{"d": "2025-12-01", "v": 7.75, "t": "Mon 01 Dec '25"}]}, "mark": {"type": "text", "color": "#ffffff", "fontSize": 13, "align": "center", "baseline": "middle"},
 "encoding": {"x": {"field": "d", "type": "temporal", "axis": null}, "y": {"field": "v", "type": "quantitative", "axis": null}, "text": {"field": "t"}}},
{"data": {"values": [{"d": "2001-02-13", "v": 6.15}]}, "mark": {"type": "point", "shape": "M-1,-0.58 L-0.16,-0.58 L-0.16,0.58 L-0.61,0.58 L-0.61,-0.13 L-1,-0.13 Z M-0.13,-0.35 A0.23,0.23 0 1,0 0.33,-0.35 A0.23,0.23 0 1,0 -0.13,-0.35 Z M0.5,-0.58 L1,-0.58 L0.5,0.58 L0.02,0.58 Z", "size": 961, "filled": true, "color": "#131722", "opacity": 1, "strokeWidth": 0},
 "encoding": {"x": {"field": "d", "type": "temporal", "axis": null}, "y": {"field": "v", "type": "quantitative", "axis": null}}},
{"data": {"values": [{"d": "2001-08-29", "v": 5.93, "t": "TradingView"}]}, "mark": {"type": "text", "color": "#131722", "fontSize": 22, "fontWeight": "bold", "align": "left", "baseline": "alphabetic"},
 "encoding": {"x": {"field": "d", "type": "temporal", "axis": null}, "y": {"field": "v", "type": "quantitative", "axis": null}, "text": {"field": "t"}}}
]
}
